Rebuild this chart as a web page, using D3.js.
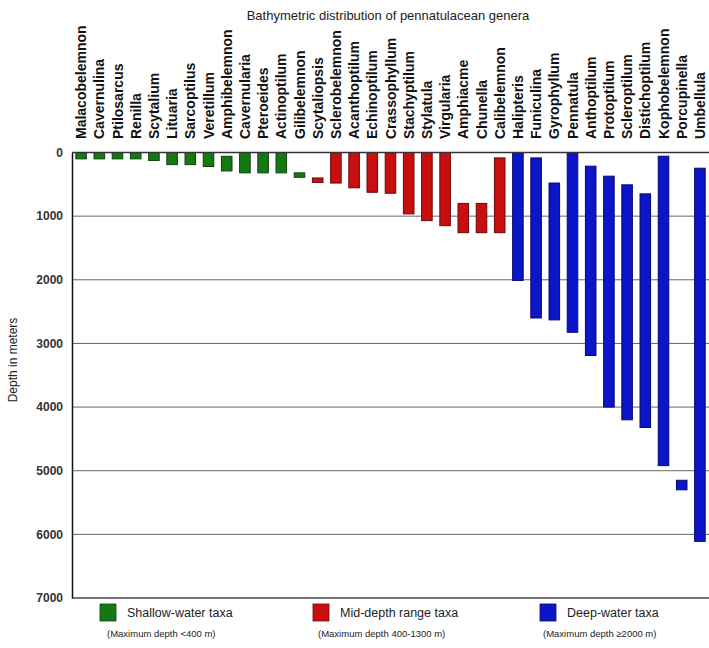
<!DOCTYPE html>
<html>
<head>
<meta charset="utf-8">
<script src="https://cdn.jsdelivr.net/npm/d3@7"></script>
<style>
  html, body { margin: 0; padding: 0; background: #fff; }
  svg { display: block; font-family: "Liberation Sans", Arial, sans-serif; }
</style>
</head>
<body>
<svg id="chart" width="709" height="648"></svg>
<script>
// ---- data ----
const genera = ["Malacobelemnon","Cavernulina","Ptilosarcus","Renilla","Scytalium","Lituaria","Sarcoptilus","Veretillum","Amphibelemnon","Cavernularia","Pteroeides","Actinoptilum","Gilibelemnon","Scytaliopsis","Sclerobelemnon","Acanthoptilum","Echinoptilum","Crassophyllum","Stachyptilum","Stylatula","Virgularia","Amphiacme","Chunella","Calibelemnon","Halipteris","Funiculina","Gyrophyllum","Pennatula","Anthoptilum","Protoptilum","Scleroptilum","Distichoptilum","Kophobelemnon","Porcupinella","Umbellula"];
const groups = ["shallow","shallow","shallow","shallow","shallow","shallow","shallow","shallow","shallow","shallow","shallow","shallow","shallow","mid","mid","mid","mid","mid","mid","mid","mid","mid","mid","mid","deep","deep","deep","deep","deep","deep","deep","deep","deep","deep","deep"];
const minDepth = [0,0,0,0,0,0,0,0,60,0,0,0,320,400,0,0,0,0,0,0,0,800,800,85,0,85,480,0,215,372,508,650,58,5150,247];
const maxDepth = [100,100,100,100,125,190,190,220,290,320,320,320,390,470,480,555,625,640,965,1070,1150,1260,1260,1260,2010,2600,2630,2825,3190,4000,4200,4320,4920,5300,6110];
const yTicks = [0,1000,2000,3000,4000,5000,6000,7000];
const legendKeys = ["shallow","mid","deep"];
const legendLabels = ["Shallow-water taxa","Mid-depth range taxa","Deep-water taxa"];
const legendNotes = ["(Maximum depth <400 m)","(Maximum depth 400-1300 m)","(Maximum depth \u22652000 m)"];
const title = "Bathymetric distribution of pennatulacean genera";
const yTitle = "Depth in meters";

// ---- styles ----
const fillColor = d3.scaleOrdinal().domain(legendKeys).range(["#137a13","#c80f10","#0c16c8"]);
const strokeColor = d3.scaleOrdinal().domain(legendKeys).range(["#0a440a","#6e0606","#05086e"]);

const svg = d3.select("#chart");
const plotLeft = 72, plotRight = 709, plotTop = 152.5, plotBottom = 598;

const x = d3.scaleBand().domain(genera).range([plotLeft, plotRight]).paddingInner(0.42).paddingOuter(0.21);
const y = d3.scaleLinear().domain([0, 7000]).range([plotTop, plotBottom]);

const rows = genera.map((g, i) => ({name: g, group: groups[i], lo: minDepth[i], hi: maxDepth[i]}));

// title
svg.append("text").attr("x", 388).attr("y", 20).attr("text-anchor", "middle")
  .attr("font-size", 13).attr("fill", "#222").text(title);

// gridlines
svg.append("g").selectAll("line").data(yTicks.slice(1, -1)).join("line")
  .attr("x1", plotLeft).attr("x2", plotRight)
  .attr("y1", d => y(d)).attr("y2", d => y(d))
  .attr("stroke", "#666").attr("stroke-width", 1);

// bottom line
svg.append("line").attr("x1", plotLeft).attr("x2", plotRight)
  .attr("y1", y(7000)).attr("y2", y(7000)).attr("stroke", "#777").attr("stroke-width", 2);

// y axis
const yAxis = d3.axisLeft(y).tickValues(yTicks).tickSize(0).tickPadding(9).tickFormat(d3.format("d"));
const gy = svg.append("g").attr("transform", `translate(${plotLeft},0)`).call(yAxis);
gy.select(".domain").attr("stroke", "#111").attr("stroke-width", 1.5);
gy.selectAll("text").attr("font-size", 12).attr("font-weight", "bold").attr("fill", "#333")
  .attr("font-family", "Liberation Sans, Arial, sans-serif");

// y title
svg.append("text").attr("transform", "translate(17,360) rotate(-90)").attr("text-anchor", "middle")
  .attr("font-size", 12).attr("fill", "#222").text(yTitle);

// bars
svg.append("g").selectAll("rect").data(rows).join("rect")
  .attr("x", d => x(d.name)).attr("width", x.bandwidth())
  .attr("y", d => y(d.lo)).attr("height", d => y(d.hi) - y(d.lo))
  .attr("fill", d => fillColor(d.group)).attr("stroke", d => strokeColor(d.group)).attr("stroke-width", 1);

// top line
svg.append("line").attr("x1", plotLeft).attr("x2", plotRight)
  .attr("y1", y(0)).attr("y2", y(0)).attr("stroke", "#333").attr("stroke-width", 1.5);

// category labels
svg.append("g").selectAll("text").data(genera).join("text")
  .attr("transform", d => `translate(${x(d) + x.bandwidth() / 2},139) rotate(-90)`)
  .attr("dy", "0.36em").attr("text-anchor", "start")
  .attr("font-size", 14).attr("font-weight", "bold").attr("fill", "#111").text(d => d);

// legend
const legX = [100, 313, 540];
const noteX = [107, 318, 543];
const lg = svg.append("g");
legendKeys.forEach((k, i) => {
  lg.append("rect").attr("x", legX[i]).attr("y", 604).attr("width", 16).attr("height", 17)
    .attr("fill", fillColor(k)).attr("stroke", strokeColor(k)).attr("stroke-width", 0.8);
  lg.append("text").attr("x", legX[i] + 27).attr("y", 617).attr("font-size", 12.5)
    .attr("fill", "#222").text(legendLabels[i]);
  lg.append("text").attr("x", noteX[i]).attr("y", 637).attr("font-size", 9.5)
    .attr("fill", "#222").text(legendNotes[i]);
});
</script>
</body>
</html>
